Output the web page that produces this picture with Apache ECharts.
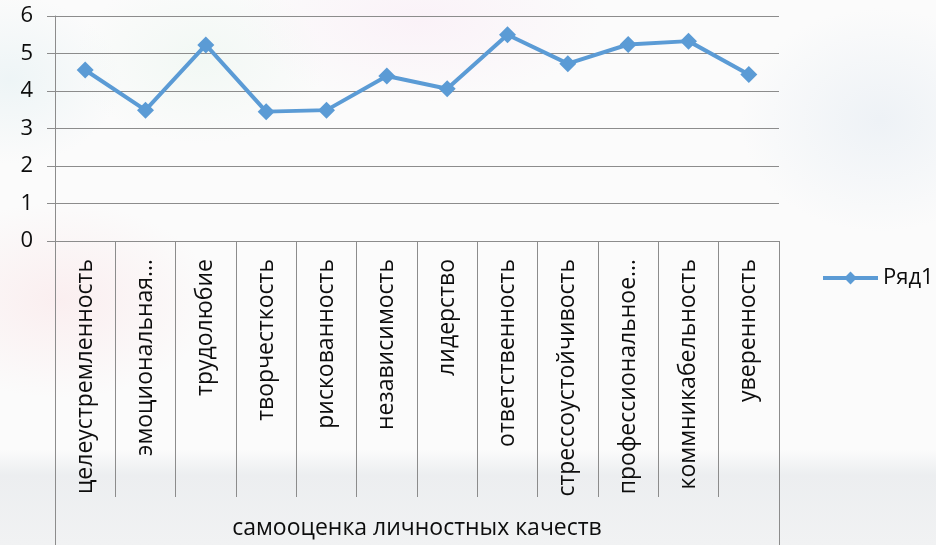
<!DOCTYPE html>
<html>
<head>
<meta charset="utf-8">
<script src="https://cdn.jsdelivr.net/npm/echarts@6/dist/echarts.min.js"></script>
<style>
  html, body { margin: 0; padding: 0; }
  body {
    width: 936px; height: 545px; overflow: hidden;
    background:
      radial-gradient(ellipse 220px 140px at 60px 300px, rgba(250,228,230,0.55), rgba(255,255,255,0) 70%),
      radial-gradient(ellipse 260px 120px at 420px 20px, rgba(250,236,246,0.6), rgba(255,255,255,0) 70%),
      radial-gradient(ellipse 180px 120px at 200px 60px, rgba(236,246,240,0.6), rgba(255,255,255,0) 70%),
      radial-gradient(ellipse 200px 160px at 880px 120px, rgba(232,238,244,0.7), rgba(255,255,255,0) 70%),
      radial-gradient(ellipse 160px 120px at 10px 80px, rgba(232,242,244,0.7), rgba(255,255,255,0) 70%),
      linear-gradient(to bottom, #fbfbfb 0px, #fbfbfb 450px, #eceef0 475px, #f1f2f3 545px);
  }
  #chart { width: 936px; height: 545px; }
</style>
</head>
<body>
<div id="chart"></div>
<script>
// Personal qualities self-assessment
const categories = [
  'целеустремленность', 'эмоциональная…', 'трудолюбие', 'творчесткость',
  'рискованность', 'независимость', 'лидерство', 'ответственность',
  'стрессоустойчивость', 'профессиональное…', 'коммникабельность', 'уверенность'
];
const groupLabels = ['самооценка личностных качеств'];
const seriesName = 'Ряд1';
const values = [4.56, 3.49, 5.23, 3.45, 3.49, 4.4, 4.06, 5.5, 4.73, 5.24, 5.33, 4.44];
const yTicks = { min: 0, max: 6, interval: 1 };

const gridColor = '#8c8c8c';
const textColor = '#0d0d0d';
const lineColor = '#5b9bd5';
const font = '"Open Sans", "Noto Sans", sans-serif';

const chart = echarts.init(document.getElementById('chart'), null, { renderer: 'canvas' });
chart.setOption({
  animation: false,
  backgroundColor: 'transparent',
  grid: { left: 55, right: 157, top: 16, bottom: 304, containLabel: false },
  legend: {
    data: [seriesName],
    left: 816, top: 262,
    itemWidth: 55, itemHeight: 16,
    itemGap: 4,
    lineStyle: { width: 4 },
    textStyle: { fontSize: 22, color: textColor, fontFamily: font }
  },
  xAxis: [
    {
      type: 'category',
      data: categories,
      position: 'bottom',
      boundaryGap: true,
      axisLine: { lineStyle: { color: gridColor, width: 1 } },
      axisTick: { show: true, interval: 0, length: 256, lineStyle: { color: gridColor, width: 1 } },
      axisLabel: {
        interval: 0, rotate: 90, margin: 18,
        fontSize: 23, color: textColor, fontFamily: font
      }
    },
    {
      type: 'category',
      data: groupLabels,
      position: 'bottom',
      boundaryGap: true,
      axisLine: { show: false },
      axisTick: { show: true, length: 304, lineStyle: { color: gridColor, width: 1 } },
      axisLabel: { margin: 276, fontSize: 23, color: textColor, fontFamily: font }
    }
  ],
  yAxis: {
    type: 'value',
    min: yTicks.min, max: yTicks.max, interval: yTicks.interval,
    axisLine: { show: true, lineStyle: { color: gridColor, width: 1 } },
    axisTick: { show: true, length: 8, lineStyle: { color: gridColor, width: 1 } },
    splitLine: { show: true, lineStyle: { color: gridColor, width: 1 } },
    axisLabel: { margin: 22, fontSize: 22, color: textColor, fontFamily: font }
  },
  series: [{
    name: seriesName,
    type: 'line',
    xAxisIndex: 0,
    data: values,
    symbol: 'diamond',
    symbolSize: 17,
    lineStyle: { color: lineColor, width: 4 },
    itemStyle: { color: lineColor }
  }]
});
</script>
</body>
</html>
